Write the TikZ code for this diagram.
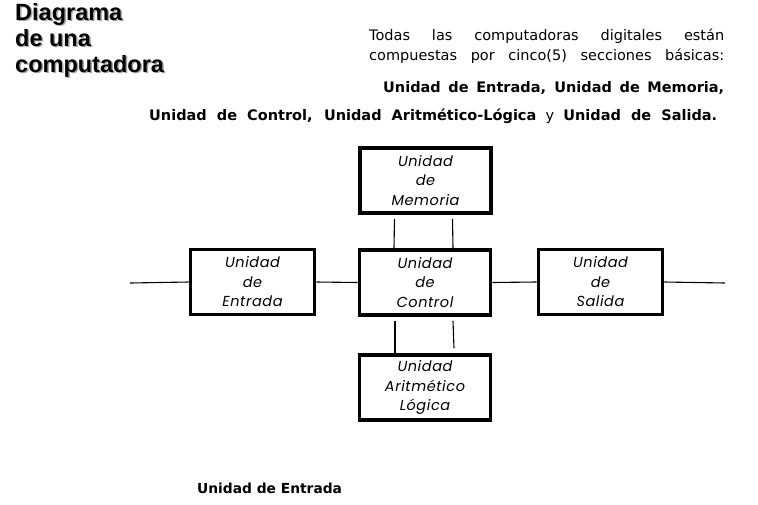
\documentclass[tikz,border=0pt]{standalone}
\usepackage{fontspec}
\setmainfont{DejaVu Sans}
\newfontfamily\titlefont{Liberation Sans}
\newfontfamily\unitfont[LetterSpace=4]{Poppins}
\usetikzlibrary{positioning}

\begin{document}
\begin{tikzpicture}[
		x=1pt, y=-1pt,
		unit/.style={draw, line width=3.6pt, minimum width=131pt, minimum height=65pt, inner sep=0pt,
			align=center, font=\unitfont\itshape\fontsize{14.5pt}{19.5pt}\selectfont},
		small/.style={minimum width=124pt},
		link/.style={line width=1.1pt},
		title/.style={anchor=base west, inner sep=0pt, font=\titlefont\bfseries\fontsize{23.5pt}{23.5pt}\selectfont},
		body/.style={anchor=base west, inner sep=0pt, font=\fontsize{14.5pt}{17pt}\selectfont},
		bodybf/.style={body, font=\bfseries\fontsize{14.5pt}{17pt}\selectfont}
		]
		\useasboundingbox (0,0) rectangle (758,504);
		
		% Titulo
		\foreach \t/\yy in {Diagrama/20, de una/46, computadora/72}{
			\node[title, text=black!35] at (16.5,\yy+1.5) {\t};
			\node[title] at (15,\yy) {\t};
		}
		
		% Texto
		\node[body] (p1) at (369,40) {\makebox[355pt][s]{Todas las computadoras digitales están}};
		\node[body] (p2) at (369,60) {\makebox[355pt][s]{compuestas por cinco(5) secciones básicas:}};
		\node[bodybf] (b1) at (383,92) {\makebox[341pt][s]{Unidad de Entrada, Unidad de Memoria,}};
		\node[body] (b2) at (149,120) {\makebox[568pt][s]{\textbf{Unidad de Control, Unidad Aritmético-Lógica} y \textbf{Unidad de Salida.}}};
		
		% Bloques
		\node[unit] (mem) at (425.5,180.5) {Unidad\\de\\Memoria};
		\node[unit] (ctl) at (425,282.5) {Unidad\\de\\Control};
		\node[unit] (alu) at (425,387.5) {Unidad\\Aritmético\\Lógica};
		\node[unit, small] (ent) at (252.5,282) {Unidad\\de\\Entrada};
		\node[unit, small] (sal) at (600.5,282) {Unidad\\de\\Salida};
		\coordinate (inp) at (130,283);
		\coordinate (out) at (725,283);
		
		% Conexiones
		\draw[link] (inp) -- (ent.west);
		\draw[link] (ent.east) -- (ctl.west);
		\draw[link] (ctl.east) -- (sal.west);
		\draw[link] (sal.east) -- (out);
		\draw[link] ([xshift=-31pt,yshift=-4pt]mem.south) -- ([xshift=-31pt]ctl.north);
		\draw[link] ([xshift=27pt,yshift=-4pt]mem.south) -- ([xshift=28pt]ctl.north);
		\draw[link] ([xshift=-30pt,yshift=-4pt]ctl.south) -- ([xshift=-30pt]alu.north);
		\draw[link] ([xshift=28pt,yshift=-4pt]ctl.south) -- ([xshift=29pt,yshift=5pt]alu.north);
		
		% Pie
		\node[bodybf, font=\bfseries\fontsize{13.8pt}{17pt}\selectfont] (foot) at (197,493) {Unidad de Entrada};
		
	\end{tikzpicture}
\end{document}
